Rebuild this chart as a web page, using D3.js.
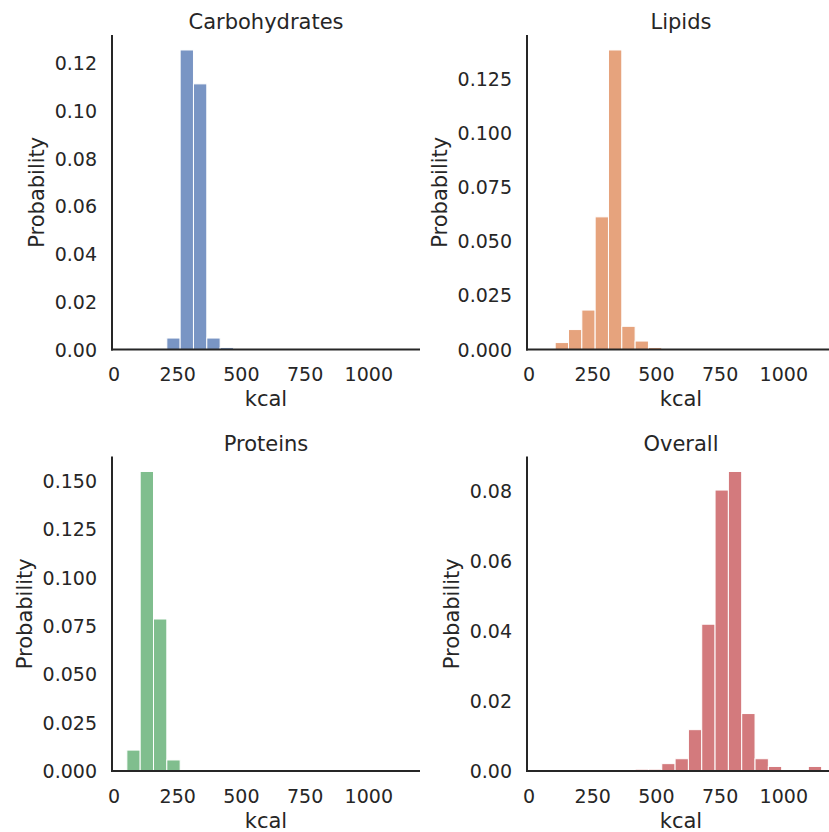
<!DOCTYPE html>
<html>
<head>
<meta charset="utf-8">
<script src="https://cdn.jsdelivr.net/npm/d3@7"></script>
<style>
  body { margin: 0; background: #fff; }
  svg { display: block; font-family: "DejaVu Sans", sans-serif; }
</style>
</head>
<body>
<div id="chart"></div>
<script>
// shared histogram bin edges (kcal)
const binEdges = [0, 52.3, 104.6, 156.9, 209.2, 261.5, 313.8, 366.1, 418.4, 470.7, 523,
                  575.3, 627.6, 679.9, 732.2, 784.5, 836.8, 889.1, 941.4, 993.7, 1046, 1098.3, 1150.6];

const carbValues    = [0, 0.0003, 0.0002, 0.0003, 0.0048, 0.1255, 0.1113, 0.0048, 0.0008, 0, 0,
                       0, 0, 0, 0, 0, 0, 0, 0, 0, 0, 0];
const lipidValues   = [0, 0, 0.0032, 0.0092, 0.0182, 0.0612, 0.1382, 0.0107, 0.0039, 0.0009, 0,
                       0, 0, 0, 0, 0, 0, 0, 0, 0, 0, 0];
const proteinValues = [0, 0.0108, 0.1547, 0.0785, 0.0057, 0, 0, 0, 0, 0, 0,
                       0, 0, 0, 0, 0, 0, 0, 0, 0, 0, 0];
const overallValues = [0, 0, 0, 0, 0, 0, 0, 0, 0.0005, 0.0005, 0.0021,
                       0.0035, 0.0118, 0.0419, 0.0802, 0.0855, 0.0164, 0.0035, 0.0013, 0, 0, 0.0013];

const panelTitles = ["Carbohydrates", "Lipids", "Proteins", "Overall"];
const xTicks = [0, 250, 500, 750, 1000];
const yTicksCarb    = [0, 0.02, 0.04, 0.06, 0.08, 0.10, 0.12];
const yTicksLipid   = [0, 0.025, 0.05, 0.075, 0.10, 0.125];
const yTicksProtein = [0, 0.025, 0.05, 0.075, 0.10, 0.125, 0.15];
const yTicksOverall = [0, 0.02, 0.04, 0.06, 0.08];

const W = 829, H = 832;
const ink = "#262626";
const colors = ["#4c72b0", "#dd8452", "#55a868", "#c44e52"];

const panels = [
  {title: panelTitles[0], values: carbValues,    ticks: yTicksCarb,    fmt: ".2f", left: 112, top: 35,    color: colors[0]},
  {title: panelTitles[1], values: lipidValues,   ticks: yTicksLipid,   fmt: ".3f", left: 527, top: 35,    color: colors[1]},
  {title: panelTitles[2], values: proteinValues, ticks: yTicksProtein, fmt: ".3f", left: 112, top: 456.5, color: colors[2]},
  {title: panelTitles[3], values: overallValues, ticks: yTicksOverall, fmt: ".2f", left: 527, top: 456.5, color: colors[3]}
];
const pw = 308, ph = 314.5;

const svg = d3.select("#chart").append("svg")
    .attr("width", W).attr("height", H);

panels.forEach(p => {
  const g = svg.append("g").attr("transform", `translate(${p.left},${p.top})`);

  const x = d3.scaleLinear().domain([-6, 1203]).range([0, pw]);
  const yMax = d3.max(p.values) * 1.05;
  const y = d3.scaleLinear().domain([0, yMax]).range([ph, 0]);

  const bins = p.values.map((v, i) => ({x0: binEdges[i], x1: binEdges[i + 1], v: v}))
      .filter(d => d.v > 0);

  g.selectAll("rect.bar").data(bins).join("rect")
      .attr("class", "bar")
      .attr("x", d => x(d.x0))
      .attr("width", d => x(d.x1) - x(d.x0))
      .attr("y", d => y(d.v))
      .attr("height", d => ph - y(d.v))
      .attr("fill", p.color)
      .attr("fill-opacity", 0.75)
      .attr("stroke", "#fff")
      .attr("stroke-width", 1);

  // x axis (no tick marks, seaborn white style)
  const xAxis = g.append("g").attr("transform", `translate(0,${ph})`)
      .call(d3.axisBottom(x).tickValues(xTicks).tickSize(0).tickPadding(0).tickFormat(d3.format("d")));
  xAxis.select(".domain").remove();
  xAxis.selectAll("text").attr("dy", null).attr("y", 31.5)
      .attr("fill", ink).attr("font-size", 19).attr("font-family", "DejaVu Sans");

  const yAxis = g.append("g")
      .call(d3.axisLeft(y).tickValues(p.ticks).tickSize(0).tickPadding(15).tickFormat(d3.format(p.fmt)));
  yAxis.select(".domain").remove();
  yAxis.selectAll("text").attr("fill", ink).attr("font-size", 19).attr("font-family", "DejaVu Sans")
      .attr("dy", "0.35em");

  // spines
  g.append("line").attr("x1", 0).attr("x2", 0).attr("y1", 0).attr("y2", ph + 1)
      .attr("stroke", ink).attr("stroke-width", 2);
  g.append("line").attr("x1", -1).attr("x2", pw).attr("y1", ph).attr("y2", ph)
      .attr("stroke", ink).attr("stroke-width", 2);

  // labels
  g.append("text").attr("x", pw / 2).attr("y", -6)
      .attr("text-anchor", "middle").attr("fill", ink).attr("font-size", 21)
      .text(p.title);

  g.append("text").attr("x", x(xTicks[2]) + (pw / 2 - x(xTicks[2])) ).attr("y", ph + 56.5)
      .attr("text-anchor", "middle").attr("fill", ink).attr("font-size", 21)
      .text("kcal");

  const tickLeft = d3.min(yAxis.selectAll("text").nodes(), n => n.getBBox().x);
  g.append("text")
      .attr("transform", `translate(${tickLeft - 11},${ph / 2}) rotate(-90)`)
      .attr("text-anchor", "middle").attr("fill", ink).attr("font-size", 21)
      .text("Probability");
});
</script>
</body>
</html>
